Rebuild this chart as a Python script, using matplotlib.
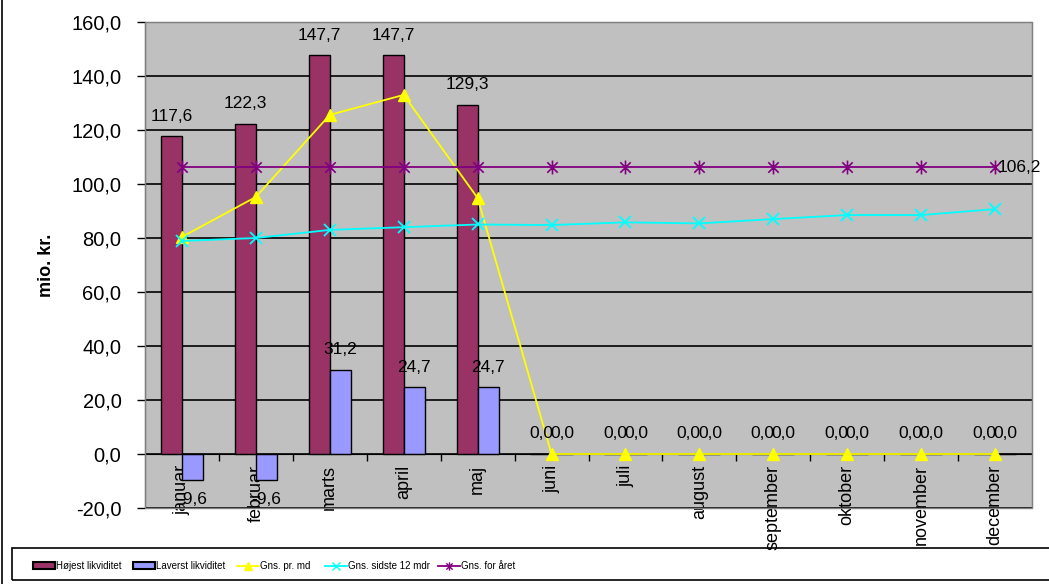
import matplotlib
matplotlib.use("Agg")
import matplotlib.pyplot as plt
from matplotlib.patches import Rectangle
from matplotlib.lines import Line2D
from matplotlib.path import Path
import numpy as np

plt.rcParams['font.family'] = ['Liberation Sans', 'DejaVu Sans']

months = ["januar", "februar", "marts", "april", "maj", "juni", "juli",
          "august", "september", "oktober", "november", "december"]
hoejest = [117.6, 122.3, 147.7, 147.7, 129.3, 0, 0, 0, 0, 0, 0, 0]
laverst = [-9.6, -9.6, 31.2, 24.7, 24.7, 0, 0, 0, 0, 0, 0, 0]
gns_md = [80.4, 95.2, 125.6, 133.0, 94.8, 0, 0, 0, 0, 0, 0, 0]
gns_12 = [78.9, 80.0, 83.0, 84.0, 85.0, 84.8, 85.8, 85.4, 87.0, 88.5, 88.5, 90.7]
gns_aar = [106.2] * 12
yticks = [-20, 0, 20, 40, 60, 80, 100, 120, 140, 160]

# asterisk marker: vertical + two 45-degree diagonals
star = Path([(0, -1), (0, 1), (-0.75, -0.75), (0.75, 0.75), (-0.75, 0.75), (0.75, -0.75)],
            [Path.MOVETO, Path.LINETO, Path.MOVETO, Path.LINETO, Path.MOVETO, Path.LINETO])

leg_size = 7

fig = plt.figure(figsize=(10.49, 5.84), dpi=100)
ax = fig.add_axes([145/1049, 1-508/584, (1032-145)/1049, (508-22)/584])
ax.set_facecolor('#C0C0C0')

x = np.arange(len(months))
w = 0.285
ax.bar(x - w/2, hoejest, w, color='#993366', edgecolor='black', linewidth=1, zorder=3)
ax.bar(x + w/2, laverst, w, color='#9999FF', edgecolor='black', linewidth=1, zorder=3)

ax.plot(x, gns_md, color='#FFFF00', lw=1.3, marker='^', ms=9, mec='#FFFF00', zorder=5)
ax.plot(x, gns_12, color='#00FFFF', lw=1.3, marker='x', ms=9, mew=1.3, zorder=5)
ax.plot(x, gns_aar, color='#800080', lw=1.3, marker=star, ms=10, mew=1.2, zorder=5)

ax.set_xlim(-0.5, 11.5)
ax.set_ylim(-20, 160)
ax.set_yticks(yticks)
ax.set_yticklabels([f"{v:.1f}".replace('.', ',') for v in yticks], fontsize=14.5)
ax.yaxis.grid(True, color='black', lw=1.2, zorder=1)
ax.set_axisbelow(True)
ax.tick_params(axis='y', direction='out', length=6, width=1, pad=11)
ax.set_ylabel("mio. kr.", fontsize=13, fontweight='bold', labelpad=12)

ax.spines['bottom'].set_position(('data', 0))
ax.spines['bottom'].set_zorder(4)
ax.spines['left'].set_color('black')
for s in ['top', 'right']:
    ax.spines[s].set_color('#808080')
ax.add_patch(Rectangle((0, 0), 1, 1, transform=ax.transAxes, fill=False,
                       edgecolor='#808080', lw=1, zorder=6, clip_on=False))

ax.set_xticks(x)
ax.set_xticklabels(months, rotation=90, fontsize=13, va='top', ha='center')
ax.set_xticks(np.arange(0.5, 11.5, 1), minor=True)
ax.tick_params(axis='x', which='major', length=0, pad=8)
ax.tick_params(axis='x', which='minor', length=5, width=1, direction='out')

def fmt(v):
    return f"{v:.1f}".replace('.', ',')

off = 20 * 72 / 100
for i in range(len(months)):
    ax.annotate(fmt(hoejest[i]), (x[i] - w/2, hoejest[i]), xytext=(0, off),
                textcoords='offset points', ha='center', va='center', fontsize=12.5, zorder=7)
    s = 1 if laverst[i] >= 0 else -1
    ax.annotate(fmt(laverst[i]), (x[i] + w/2, laverst[i]), xytext=(0, s * off),
                textcoords='offset points', ha='center', va='center', fontsize=12.5, zorder=7)
ax.annotate(fmt(gns_aar[-1]), (x[-1], gns_aar[-1]), xytext=(2, 0),
            textcoords='offset points', ha='left', va='center', fontsize=12.5, zorder=7)

handles = [
    Rectangle((0, 0), 1, 1, facecolor='#993366', edgecolor='black', lw=1.5),
    Rectangle((0, 0), 1, 1, facecolor='#9999FF', edgecolor='black', lw=1.5),
    Line2D([], [], color='#FFFF00', marker='^', ms=6, lw=1.3),
    Line2D([], [], color='#00FFFF', marker='x', ms=6, lw=1.3),
    Line2D([], [], color='#800080', marker=star, ms=6, lw=1.3),
]
labels = ["Højest likviditet", "Laverst likviditet", "Gns. pr. md",
          "Gns. sidste 12 mdr", "Gns. for året"]
hx = [33, 133, 237, 325, 438]
ly = 1 - 566/584
for h, lab, px in zip(handles, labels, hx):
    fig.legend([h], [lab], loc='center left', bbox_to_anchor=(px/1049, ly),
               frameon=False, borderpad=0, borderaxespad=0,
               handlelength=22/(leg_size*100/72), handletextpad=0.15,
               prop={'size': leg_size})
fig.patches.append(Rectangle((12/1049, 1-580/584), 1.0, 32/584, transform=fig.transFigure,
                             fill=False, edgecolor='black', lw=1.2))
fig.add_artist(Line2D([2/1049, 2/1049], [0, 1], transform=fig.transFigure, color='black', lw=1.2))

fig.savefig("out.png", dpi=100)
